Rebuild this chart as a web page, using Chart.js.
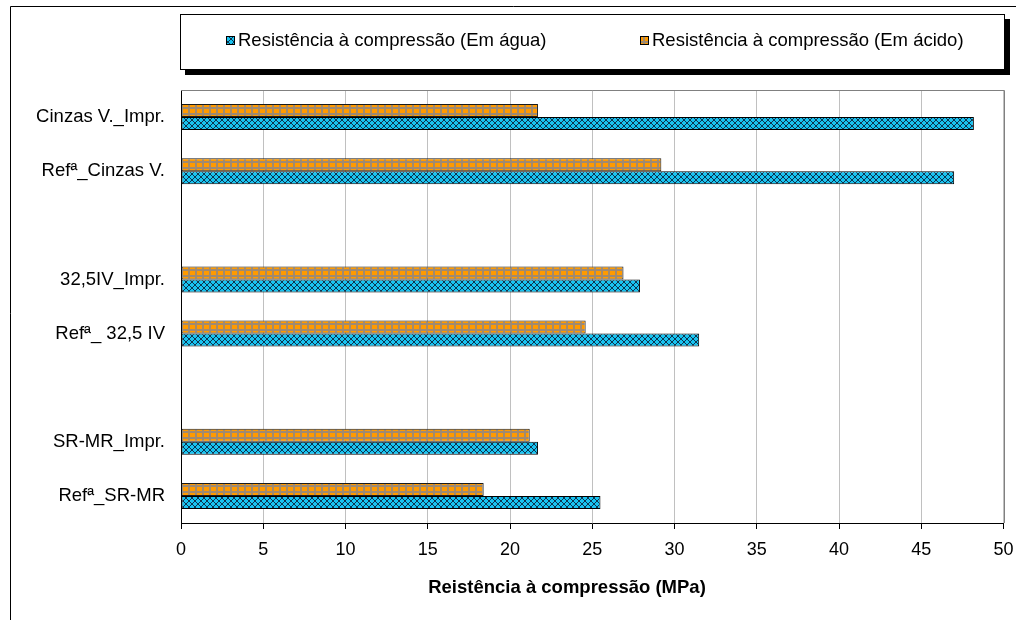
<!DOCTYPE html>
<html>
<head>
<meta charset="utf-8">
<script src="https://cdn.jsdelivr.net/npm/chart.js@4.4.1/dist/chart.umd.min.js"></script>
<style>
  html, body { margin: 0; padding: 0; background: #fff; }
  #wrap { width: 1016px; height: 620px; position: relative; }
</style>
</head>
<body>
<div id="wrap"><canvas id="chart1"></canvas></div>
<script>
// Categories from top to bottom; the blank ones leave gaps between the groups
const categories = ['Cinzas V._Impr.', 'Refª_Cinzas V.', '', '32,5IV_Impr.', 'Refª_ 32,5 IV', ' ', 'SR-MR_Impr.', 'Refª_SR-MR'];
const waterValues = [48.2, 47.0, null, 27.9, 31.5, null, 21.7, 25.5];
const acidValues = [21.7, 29.2, null, 26.9, 24.6, null, 21.2, 18.4];
const waterLabel = 'Resistência à compressão (Em água)';
const acidLabel = 'Resistência à compressão (Em ácido)';
const xTitle = 'Reistência à compressão (MPa)';
const xMin = 0;
const xMax = 50;
const xStep = 5;

const fontFamily = '"Liberation Sans", Arial, sans-serif';

// Cyan fill with a dark diagonal lattice
function waterPattern(ctx) {
  const c = document.createElement('canvas');
  c.width = 6; c.height = 6;
  const g = c.getContext('2d');
  g.fillStyle = '#19c3f0';
  g.fillRect(0, 0, 6, 6);
  g.fillStyle = '#0d3550';
  for (let i = 0; i < 6; i++) {
    g.fillRect(i, i, 1, 1);
    g.fillRect(5 - i, i, 1, 1);
  }
  return ctx.createPattern(c, 'repeat');
}

// Orange squares separated by grey lines
function acidPattern(ctx) {
  const c = document.createElement('canvas');
  c.width = 7; c.height = 6;
  const g = c.getContext('2d');
  g.fillStyle = '#a08a70';
  g.fillRect(0, 0, 7, 6);
  g.fillStyle = '#ff9a00';
  g.fillRect(1, 1, 5, 4);
  return ctx.createPattern(c, 'repeat');
}

// Outer frame, plot border and the boxed legend
const chartDecor = {
  id: 'chartDecor',
  beforeDraw(chart) {
    const ctx = chart.ctx;
    ctx.save();
    ctx.strokeStyle = '#000';
    ctx.lineWidth = 1;
    ctx.beginPath();
    ctx.moveTo(10.5, 620);
    ctx.lineTo(10.5, 6.5);
    ctx.lineTo(1016, 6.5);
    ctx.stroke();
    ctx.restore();
  },
  afterDraw(chart) {
    const ctx = chart.ctx;
    const a = chart.chartArea;
    ctx.save();
    // grey border on top and right of the plot area
    ctx.strokeStyle = '#808080';
    ctx.lineWidth = 1;
    ctx.beginPath();
    ctx.moveTo(a.left, Math.round(a.top) + 0.5);
    ctx.lineTo(Math.round(a.right) + 0.5, Math.round(a.top) + 0.5);
    ctx.lineTo(Math.round(a.right) + 0.5, a.bottom);
    ctx.stroke();

    // legend box with a heavy shadow
    const box = { left: 180, top: 14, right: 1005, bottom: 70 };
    ctx.fillStyle = '#000';
    ctx.fillRect(box.left + 5, box.top + 5, box.right - box.left, box.bottom - box.top);
    ctx.fillStyle = '#fff';
    ctx.fillRect(box.left, box.top, box.right - box.left, box.bottom - box.top);
    ctx.strokeStyle = '#000';
    ctx.strokeRect(box.left + 0.5, box.top + 0.5, box.right - box.left - 1, box.bottom - box.top - 1);

    const itemX = [226, 640];
    const midY = 41;
    const order = [1, 0];
    ctx.font = '18.5px ' + fontFamily;
    ctx.textBaseline = 'middle';
    ctx.textAlign = 'left';
    order.forEach((di, k) => {
      const ds = chart.data.datasets[di];
      ctx.fillStyle = ds.backgroundColor;
      ctx.fillRect(itemX[k], midY - 5, 9, 9);
      ctx.strokeStyle = '#000';
      ctx.strokeRect(itemX[k] + 0.5, midY - 4.5, 8, 8);
      ctx.fillStyle = '#000';
      ctx.fillText(ds.label, itemX[k] + 12, midY);
    });

    // horizontal axis caption
    ctx.font = 'bold 18.5px ' + fontFamily;
    ctx.textAlign = 'center';
    ctx.fillText(xTitle, 567, 588);
    ctx.restore();
  }
};

const canvas = document.getElementById('chart1');
const ctx = canvas.getContext('2d');

const chart1 = new Chart(ctx, {
  type: 'bar',
  data: {
    labels: categories,
    datasets: [
      {
        label: acidLabel,
        data: acidValues,
        backgroundColor: acidPattern(ctx),
        borderColor: '#1a1a1a',
        borderWidth: 1,
        borderSkipped: false,
        barPercentage: 1,
        categoryPercentage: 0.48,
      },
      {
        label: waterLabel,
        data: waterValues,
        backgroundColor: waterPattern(ctx),
        borderColor: '#000',
        borderWidth: 1,
        borderSkipped: false,
        barPercentage: 1,
        categoryPercentage: 0.48,
      },
    ],
  },
  options: {
    indexAxis: 'y',
    responsive: true,
    maintainAspectRatio: false,
    animation: false,
    layout: {
      padding: { left: 0, top: 90, right: 12.5, bottom: 0 },
    },
    scales: {
      x: {
        type: 'linear',
        min: xMin,
        max: xMax,
        ticks: {
          stepSize: xStep,
          color: '#000',
          padding: 10,
          maxRotation: 0,
          font: { family: fontFamily, size: 18 },
        },
        grid: {
          color: '#c0c0c0',
          tickColor: '#000',
          tickLength: 6,
        },
        border: { color: '#000', width: 1 },
        afterFit(scale) {
          scale.height = 97;
          scale.paddingLeft = 0;
          scale.paddingRight = 0;
        },
      },
      y: {
        type: 'category',
        ticks: {
          color: '#000',
          padding: 16,
          font: { family: fontFamily, size: 18.5 },
        },
        grid: { display: false, drawTicks: false },
        border: { color: '#000', width: 1 },
        afterFit(scale) {
          scale.width = 181;
        },
      },
    },
    plugins: {
      legend: { display: false },
      tooltip: { enabled: false },
    },
  },
  plugins: [chartDecor],
});
</script>
</body>
</html>
